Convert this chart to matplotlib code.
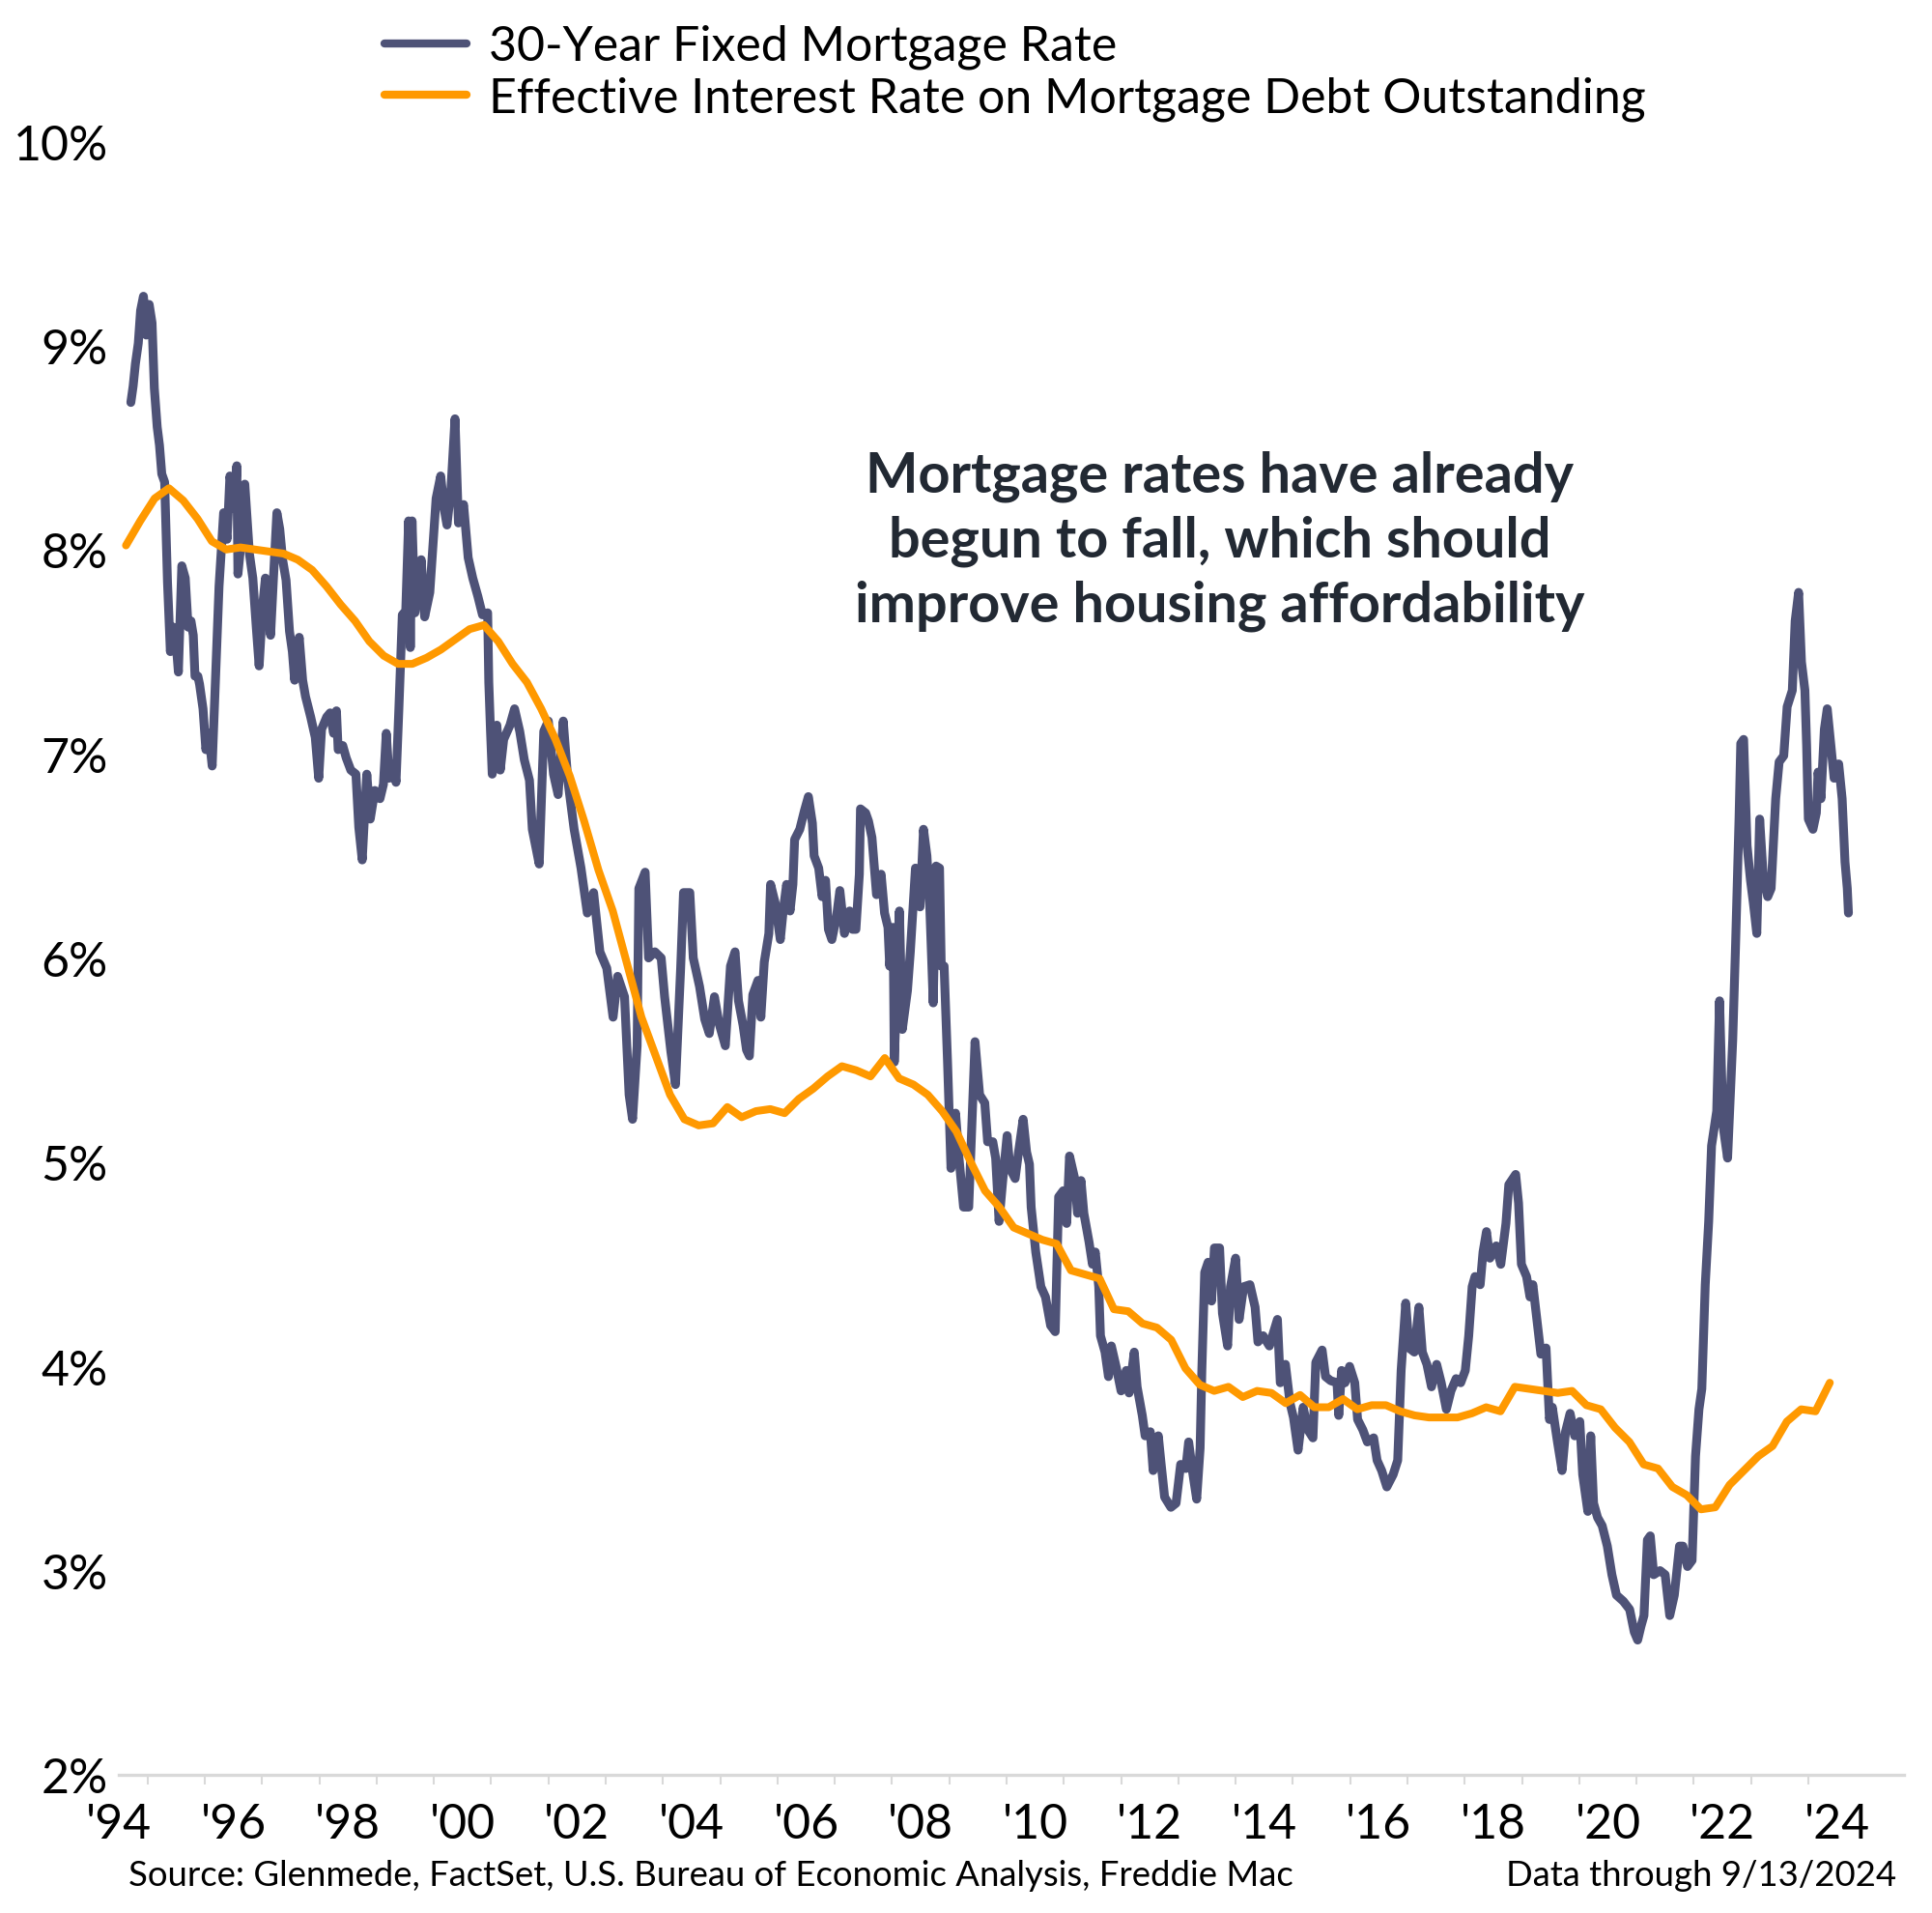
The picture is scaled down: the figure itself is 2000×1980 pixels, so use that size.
import matplotlib
matplotlib.use("Agg")
import matplotlib.pyplot as plt
import numpy as np

# ---------------- data ----------------
# 30-Year Fixed Mortgage Rate (decimal year, %)
rate30_dates = [
    1994.71, 1994.75, 1994.79, 1994.84, 1994.88, 1994.93, 1994.98, 1995.03, 1995.08, 1995.12,
    1995.17, 1995.21, 1995.25, 1995.30, 1995.35, 1995.40, 1995.45, 1995.49, 1995.54, 1995.60,
    1995.66, 1995.71, 1995.76, 1995.80, 1995.83, 1995.88, 1995.91, 1995.97, 1996.02, 1996.07,
    1996.13, 1996.19, 1996.25, 1996.33, 1996.39, 1996.44, 1996.52, 1996.56, 1996.58, 1996.64,
    1996.70, 1996.78, 1996.84, 1996.90, 1996.95, 1997.01, 1997.06, 1997.15, 1997.20, 1997.26,
    1997.31, 1997.36, 1997.42, 1997.48, 1997.53, 1997.57, 1997.65, 1997.71, 1997.76, 1997.85,
    1997.93, 1997.99, 1998.04, 1998.13, 1998.19, 1998.25, 1998.30, 1998.33, 1998.41, 1998.47,
    1998.55, 1998.64, 1998.69, 1998.75, 1998.80, 1998.83, 1998.89, 1998.97, 1999.06, 1999.12,
    1999.17, 1999.22, 1999.30, 1999.34, 1999.39, 1999.45, 1999.51, 1999.56, 1999.59, 1999.62,
    1999.67, 1999.72, 1999.78, 1999.84, 1999.93, 2000.04, 2000.12, 2000.18, 2000.23, 2000.30,
    2000.37, 2000.43, 2000.52, 2000.60, 2000.68, 2000.77, 2000.85, 2000.94, 2000.96, 2000.99,
    2001.02, 2001.10, 2001.16, 2001.22, 2001.33, 2001.41, 2001.50, 2001.58, 2001.67, 2001.72,
    2001.84, 2001.89, 2001.92, 2002.00, 2002.09, 2002.17, 2002.26, 2002.34, 2002.45, 2002.57,
    2002.68, 2002.79, 2002.90, 2003.02, 2003.13, 2003.21, 2003.33, 2003.41, 2003.47, 2003.55,
    2003.58, 2003.69, 2003.75, 2003.86, 2003.97, 2004.03, 2004.14, 2004.22, 2004.31, 2004.36,
    2004.47, 2004.53, 2004.64, 2004.73, 2004.81, 2004.90, 2004.98, 2005.09, 2005.18, 2005.26,
    2005.32, 2005.40, 2005.46, 2005.51, 2005.57, 2005.66, 2005.71, 2005.77, 2005.85, 2005.88,
    2005.96, 2006.05, 2006.10, 2006.16, 2006.22, 2006.27, 2006.30, 2006.39, 2006.47, 2006.54,
    2006.61, 2006.64, 2006.72, 2006.78, 2006.84, 2006.89, 2006.95, 2007.03, 2007.09, 2007.17,
    2007.26, 2007.31, 2007.37, 2007.43, 2007.45, 2007.54, 2007.59, 2007.65, 2007.73, 2007.81,
    2007.87, 2007.93, 2007.96, 2008.02, 2008.04, 2008.13, 2008.18, 2008.27, 2008.32, 2008.41,
    2008.49, 2008.55, 2008.61, 2008.66, 2008.72, 2008.77, 2008.83, 2008.86, 2008.91, 2008.97,
    2009.03, 2009.11, 2009.17, 2009.25, 2009.34, 2009.45, 2009.53, 2009.62, 2009.67, 2009.76,
    2009.81, 2009.87, 2009.93, 2010.01, 2010.06, 2010.15, 2010.21, 2010.29, 2010.35, 2010.40,
    2010.43, 2010.51, 2010.60, 2010.68, 2010.77, 2010.85, 2010.91, 2010.99, 2011.05, 2011.10,
    2011.19, 2011.24, 2011.30, 2011.35, 2011.44, 2011.50, 2011.55, 2011.61, 2011.64, 2011.72,
    2011.78, 2011.83, 2011.92, 2012.00, 2012.09, 2012.14, 2012.23, 2012.28, 2012.37, 2012.42,
    2012.51, 2012.56, 2012.65, 2012.70, 2012.76, 2012.87, 2012.96, 2013.04, 2013.13, 2013.18,
    2013.24, 2013.32, 2013.38, 2013.41, 2013.46, 2013.52, 2013.58, 2013.63, 2013.72, 2013.77,
    2013.86, 2013.91, 2014.00, 2014.06, 2014.14, 2014.25, 2014.34, 2014.39, 2014.48, 2014.59,
    2014.73, 2014.78, 2014.87, 2014.95, 2015.01, 2015.09, 2015.18, 2015.26, 2015.35, 2015.40,
    2015.51, 2015.57, 2015.66, 2015.77, 2015.80, 2015.85, 2015.91, 2015.99, 2016.08, 2016.13,
    2016.22, 2016.30, 2016.41, 2016.47, 2016.55, 2016.64, 2016.75, 2016.83, 2016.89, 2016.97,
    2017.03, 2017.12, 2017.20, 2017.26, 2017.34, 2017.42, 2017.51, 2017.59, 2017.68, 2017.76,
    2017.85, 2017.93, 2018.01, 2018.07, 2018.13, 2018.18, 2018.27, 2018.32, 2018.38, 2018.44,
    2018.55, 2018.63, 2018.72, 2018.77, 2018.89, 2018.94, 2018.99, 2019.08, 2019.14, 2019.19,
    2019.28, 2019.33, 2019.42, 2019.48, 2019.53, 2019.62, 2019.70, 2019.76, 2019.84, 2019.92,
    2020.01, 2020.06, 2020.15, 2020.20, 2020.25, 2020.32, 2020.40, 2020.49, 2020.57, 2020.65,
    2020.77, 2020.88, 2020.96, 2021.02, 2021.08, 2021.13, 2021.19, 2021.24, 2021.30, 2021.41,
    2021.50, 2021.58, 2021.66, 2021.75, 2021.81, 2021.89, 2021.97, 2022.03, 2022.09, 2022.14,
    2022.20, 2022.26, 2022.31, 2022.40, 2022.45, 2022.51, 2022.59, 2022.68, 2022.73, 2022.79,
    2022.82, 2022.87, 2022.93, 2022.99, 2023.04, 2023.10, 2023.15, 2023.21, 2023.29, 2023.35,
    2023.43, 2023.49, 2023.57, 2023.63, 2023.72, 2023.77, 2023.83, 2023.88, 2023.94, 2023.97,
    2024.00, 2024.08, 2024.14, 2024.17, 2024.22, 2024.28, 2024.33, 2024.39, 2024.45, 2024.53,
    2024.59, 2024.64, 2024.68, 2024.70,
]
rate30_values = [
    8.72, 8.80, 8.91, 9.01, 9.17, 9.24, 9.05, 9.20, 9.11, 8.79,
    8.60, 8.51, 8.37, 8.33, 7.84, 7.50, 7.62, 7.58, 7.40, 7.92,
    7.86, 7.62, 7.65, 7.58, 7.38, 7.38, 7.34, 7.22, 7.02, 7.10,
    6.94, 7.38, 7.82, 8.18, 8.05, 8.36, 8.20, 8.41, 7.88, 8.05,
    8.32, 7.98, 7.86, 7.62, 7.43, 7.72, 7.86, 7.58, 7.86, 8.18,
    8.10, 7.95, 7.85, 7.60, 7.50, 7.36, 7.57, 7.36, 7.28, 7.18,
    7.08, 6.88, 7.12, 7.18, 7.20, 7.10, 7.21, 7.02, 7.04, 6.98,
    6.92, 6.90, 6.64, 6.48, 6.75, 6.90, 6.68, 6.82, 6.78, 6.85,
    7.10, 6.88, 6.95, 6.86, 7.22, 7.68, 7.70, 8.14, 7.52, 8.14,
    7.69, 7.80, 7.95, 7.67, 7.79, 8.25, 8.36, 8.20, 8.12, 8.30,
    8.64, 8.13, 8.22, 7.96, 7.86, 7.77, 7.68, 7.69, 7.35, 7.11,
    6.90, 7.14, 6.92, 7.07, 7.14, 7.22, 7.11, 6.97, 6.87, 6.63,
    6.46, 6.87, 7.11, 7.16, 6.90, 6.80, 7.16, 6.87, 6.63, 6.44,
    6.22, 6.32, 6.03, 5.95, 5.71, 5.91, 5.81, 5.33, 5.21, 5.57,
    6.34, 6.42, 6.00, 6.03, 6.00, 5.81, 5.54, 5.38, 5.95, 6.32,
    6.32, 6.00, 5.86, 5.70, 5.63, 5.81, 5.68, 5.57, 5.96, 6.03,
    5.79, 5.67, 5.55, 5.52, 5.82, 5.89, 5.71, 5.98, 6.12, 6.36,
    6.27, 6.09, 6.23, 6.36, 6.23, 6.36, 6.58, 6.63, 6.72, 6.79,
    6.66, 6.50, 6.44, 6.30, 6.38, 6.14, 6.09, 6.20, 6.33, 6.12,
    6.23, 6.14, 6.14, 6.41, 6.73, 6.71, 6.67, 6.59, 6.31, 6.41,
    6.22, 6.15, 5.96, 6.15, 5.49, 6.23, 5.65, 5.84, 6.03, 6.44,
    6.25, 6.63, 6.50, 6.25, 5.78, 6.45, 6.44, 5.96, 5.96, 5.49,
    4.97, 5.24, 5.02, 4.78, 4.78, 5.59, 5.33, 5.29, 5.10, 5.10,
    5.02, 4.71, 4.90, 5.13, 4.97, 4.92, 5.05, 5.21, 5.05, 4.99,
    4.78, 4.56, 4.39, 4.34, 4.20, 4.17, 4.83, 4.86, 4.70, 5.03,
    4.92, 4.75, 4.91, 4.75, 4.61, 4.50, 4.56, 4.39, 4.15, 4.07,
    3.95, 4.10, 3.99, 3.88, 3.98, 3.87, 4.07, 3.90, 3.76, 3.66,
    3.68, 3.49, 3.66, 3.52, 3.36, 3.31, 3.33, 3.52, 3.50, 3.63,
    3.50, 3.35, 3.60, 3.98, 4.46, 4.51, 4.32, 4.58, 4.58, 4.26,
    4.10, 4.39, 4.53, 4.23, 4.39, 4.40, 4.29, 4.12, 4.15, 4.10,
    4.23, 3.92, 4.01, 3.82, 3.75, 3.59, 3.80, 3.69, 3.65, 4.02,
    4.08, 3.95, 3.93, 3.92, 3.76, 3.98, 3.92, 4.00, 3.92, 3.74,
    3.69, 3.63, 3.65, 3.54, 3.49, 3.41, 3.47, 3.54, 3.98, 4.31,
    4.09, 4.07, 4.29, 4.07, 4.01, 3.90, 4.01, 3.92, 3.79, 3.88,
    3.94, 3.92, 3.98, 4.15, 4.39, 4.44, 4.40, 4.56, 4.66, 4.53,
    4.59, 4.50, 4.70, 4.89, 4.94, 4.80, 4.50, 4.44, 4.34, 4.40,
    4.18, 4.06, 4.09, 3.74, 3.80, 3.63, 3.49, 3.68, 3.77, 3.66,
    3.73, 3.47, 3.29, 3.66, 3.33, 3.26, 3.22, 3.12, 2.98, 2.88,
    2.85, 2.81, 2.70, 2.66, 2.73, 2.78, 3.15, 3.17, 2.98, 3.00,
    2.98, 2.78, 2.88, 3.12, 3.12, 3.02, 3.05, 3.56, 3.79, 3.89,
    4.40, 4.71, 5.08, 5.25, 5.79, 5.18, 5.02, 5.60, 6.07, 6.68,
    7.05, 7.07, 6.55, 6.38, 6.27, 6.12, 6.68, 6.41, 6.30, 6.34,
    6.78, 6.96, 6.99, 7.23, 7.31, 7.65, 7.79, 7.45, 7.31, 7.04,
    6.68, 6.63, 6.71, 6.91, 6.78, 7.12, 7.22, 7.05, 6.88, 6.95,
    6.78, 6.47, 6.34, 6.22,
]

# Effective Interest Rate on Mortgage Debt Outstanding (quarterly, 1994Q3 - 2024Q2)
eff_start_year = 1994.625   # mid-quarter of 1994Q3
eff_values = [
    8.02, 8.14,
    8.25, 8.30, 8.24, 8.15,   # 1995
    8.04, 8.00, 8.01, 8.00,   # 1996
    7.99, 7.98, 7.95, 7.90,   # 1997
    7.82, 7.73, 7.65, 7.55,   # 1998
    7.48, 7.44, 7.44, 7.47,   # 1999
    7.51, 7.56, 7.61, 7.63,   # 2000
    7.55, 7.44, 7.35, 7.22,   # 2001
    7.07, 6.89, 6.67, 6.43,   # 2002
    6.23, 5.97, 5.71, 5.52,   # 2003
    5.33, 5.21, 5.18, 5.19,   # 2004
    5.27, 5.22, 5.25, 5.26,   # 2005
    5.24, 5.31, 5.36, 5.42,   # 2006
    5.47, 5.45, 5.42, 5.51,   # 2007
    5.41, 5.38, 5.33, 5.25,   # 2008
    5.15, 5.00, 4.86, 4.78,   # 2009
    4.68, 4.65, 4.62, 4.60,   # 2010
    4.47, 4.45, 4.43, 4.28,   # 2011
    4.27, 4.21, 4.19, 4.13,   # 2012
    3.99, 3.91, 3.88, 3.90,   # 2013
    3.85, 3.88, 3.87, 3.82,   # 2014
    3.86, 3.80, 3.80, 3.84,   # 2015
    3.79, 3.81, 3.81, 3.78,   # 2016
    3.76, 3.75, 3.75, 3.75,   # 2017
    3.77, 3.80, 3.78, 3.90,   # 2018
    3.89, 3.88, 3.87, 3.88,   # 2019
    3.81, 3.79, 3.70, 3.63,   # 2020
    3.52, 3.50, 3.41, 3.37,   # 2021
    3.30, 3.31, 3.42, 3.49,   # 2022
    3.56, 3.61, 3.73, 3.79,   # 2023
    3.78, 3.92,               # 2024
]
eff_dates = [eff_start_year + 0.25 * i for i in range(len(eff_values))]

label_years = list(range(1994, 2025, 2))
tick_labels = ["'" + str(y)[2:] for y in label_years]
y_ticks = list(range(2, 11))
y_tick_labels = [f"{v}%" for v in y_ticks]

series_names = ["30-Year Fixed Mortgage Rate",
                "Effective Interest Rate on Mortgage Debt Outstanding"]
annotation = "Mortgage rates have already\nbegun to fall, which should\nimprove housing affordability"
source_text = "Source: Glenmede, FactSet, U.S. Bureau of Economic Analysis, Freddie Mac"
date_text = "Data through 9/13/2024"

NAVY = "#4E5277"
ORANGE = "#FF9900"
AXIS_GRAY = "#D9D9D9"

plt.rcParams["font.family"] = ["Lato", "DejaVu Sans"]

W, H = 2000, 1981
fig = plt.figure(figsize=(W / 100, H / 100), dpi=100)
ax = fig.add_axes([123 / W, (H - 1838) / H, (1971 - 123) / W, (1838 - 147) / H])

l1, = ax.plot(rate30_dates, rate30_values, color=NAVY, lw=6.6,
              solid_joinstyle="round", solid_capstyle="round", zorder=3)
l2, = ax.plot(eff_dates, eff_values, color=ORANGE, lw=5.8,
              solid_joinstyle="round", solid_capstyle="round", zorder=4)

ax.set_xlim(1994.53, 2025.67)
ax.set_ylim(2, 10)

for s in ["top", "right", "left"]:
    ax.spines[s].set_visible(False)
ax.spines["bottom"].set_color(AXIS_GRAY)
ax.spines["bottom"].set_linewidth(2.4)
ax.spines["bottom"].set_zorder(1)

ax.set_yticks(y_ticks)
ax.set_yticklabels(y_tick_labels)
ax.tick_params(axis="y", length=0, pad=8, labelsize=36, labelcolor="black")

ax.set_xticks([y + 0.5 for y in label_years])
ax.set_xticklabels(tick_labels)
ax.set_xticks(list(range(1995, 2025)), minor=True)
ax.tick_params(axis="x", which="major", length=0, pad=20, labelsize=36, labelcolor="black")
ax.tick_params(axis="x", which="minor", length=7.5, width=1.5, color=AXIS_GRAY, direction="out")

ax.grid(False)

leg = fig.legend([l1, l2], series_names, loc="upper left",
                 bbox_to_anchor=(398 / W, 1 - 26 / H), frameon=False,
                 fontsize=36, handlelength=1.7, handletextpad=0.45,
                 labelspacing=0.14, borderpad=0, borderaxespad=0)
for h in leg.legend_handles:
    h.set_linewidth(6)
    h.set_solid_capstyle("round")

fig.text(1263 / W, 1 - 560 / H, annotation, ha="center", va="center",
         fontsize=41.5, fontweight="bold", color="#222933", linespacing=1.31)

fig.text(133 / W, 1 - 1942 / H, source_text, ha="left", va="center",
         fontsize=26.3, color="black")
fig.text(1963 / W, 1 - 1942 / H, date_text, ha="right", va="center",
         fontsize=26.3, color="black")

fig.savefig("out.png", dpi=100, facecolor="white")
